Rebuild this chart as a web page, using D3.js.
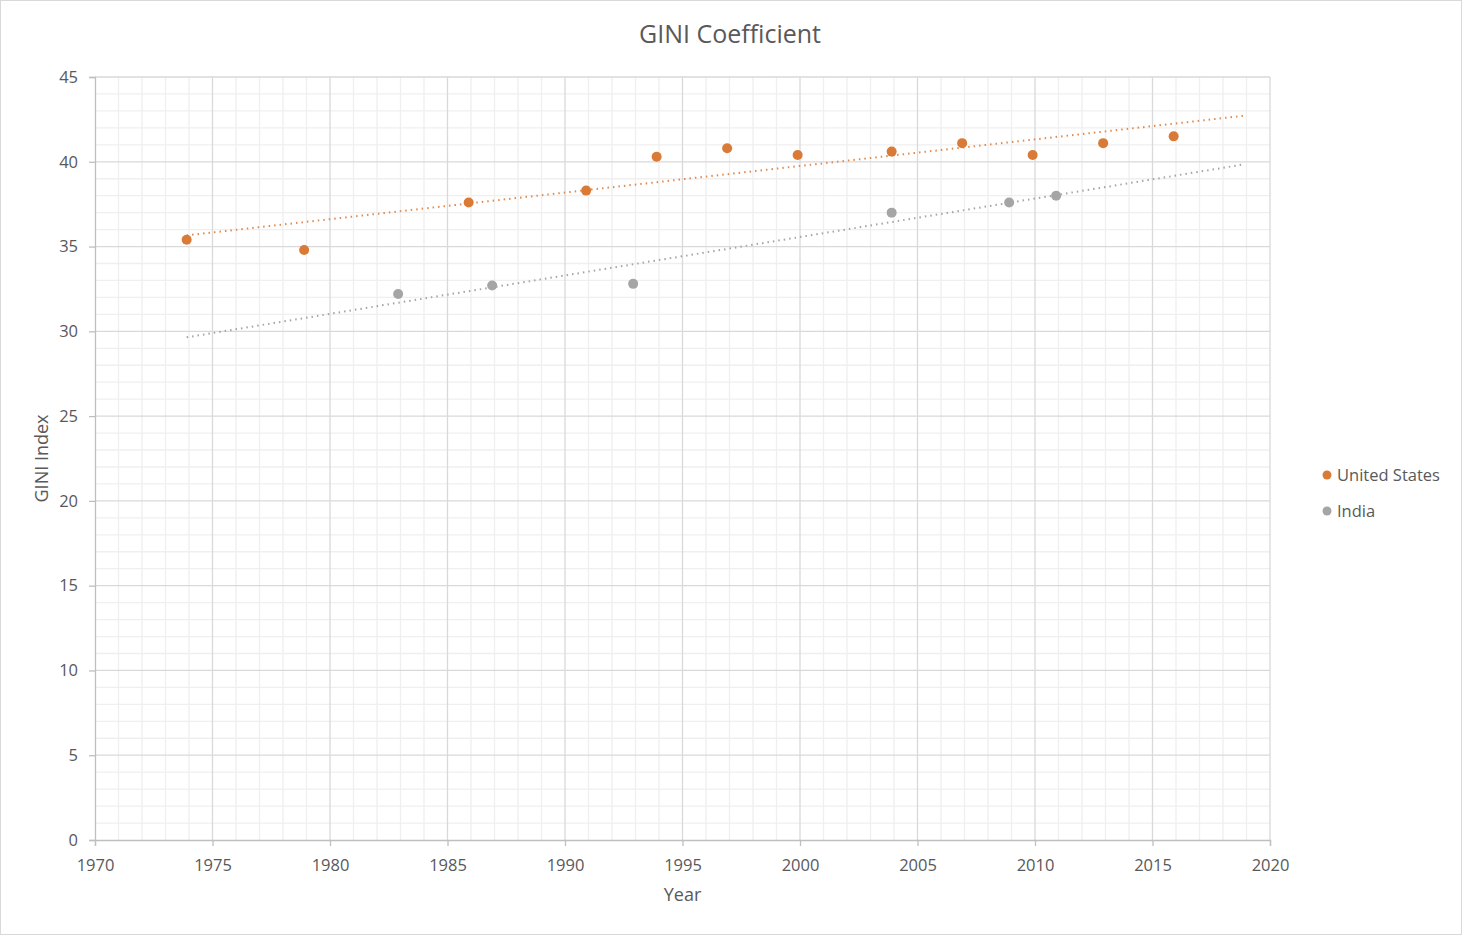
<!DOCTYPE html>
<html>
<head>
<meta charset="utf-8">
<script src="https://cdn.jsdelivr.net/npm/d3@7"></script>
<style>
  body { margin: 0; background: #fff; }
  text { font-family: "Open Sans", "Noto Sans", sans-serif; fill: #595959; }
</style>
</head>
<body>
<div id="viz"></div>
<script>
// data
const usYears = [1973.9, 1978.9, 1985.9, 1990.9, 1993.9, 1996.9, 1999.9, 2003.9, 2006.9, 2009.9, 2012.9, 2015.9];
const usGini = [35.4, 34.8, 37.6, 38.3, 40.3, 40.8, 40.4, 40.6, 41.1, 40.4, 41.1, 41.5];
const indiaYears = [1982.9, 1986.9, 1992.9, 2003.9, 2008.9, 2010.9];
const indiaGini = [32.2, 32.7, 32.8, 37.0, 37.6, 38.0];
const trendRange = [1973.9, 2018.9];
const xTicks = [1970, 1975, 1980, 1985, 1990, 1995, 2000, 2005, 2010, 2015, 2020];
const yTicks = [0, 5, 10, 15, 20, 25, 30, 35, 40, 45];

const series = [
    { name: "United States", xs: usYears, ys: usGini, color: "#d97a36", trend: "#e08a4c" },
    { name: "India", xs: indiaYears, ys: indiaGini, color: "#a5a5a5", trend: "#a5a5a5" }
];

const width = 1462;
const height = 935;
const plot = { left: 95, right: 1270, top: 77, bottom: 840 };

const svg = d3.select('#viz').append('svg')
    .attr('width', width)
    .attr('height', height);

svg.append('rect')
    .attr('x', 0.5).attr('y', 0.5)
    .attr('width', width - 1).attr('height', height - 1)
    .attr('fill', 'white')
    .attr('stroke', '#d9d9d9');

const x = d3.scaleLinear().domain([1970, 2020]).range([plot.left, plot.right]);
const y = d3.scaleLinear().domain([0, 45]).range([plot.bottom, plot.top]);

// minor grid
const grid = svg.append('g');
grid.selectAll('.minx')
    .data(d3.range(1971, 2020).filter(v => v % 5 !== 0))
    .enter().append('line')
    .attr('x1', d => x(d)).attr('x2', d => x(d))
    .attr('y1', plot.top).attr('y2', plot.bottom)
    .attr('stroke', '#efefef').attr('stroke-width', 1.3);
grid.selectAll('.miny')
    .data(d3.range(1, 45).filter(v => v % 5 !== 0))
    .enter().append('line')
    .attr('y1', d => y(d)).attr('y2', d => y(d))
    .attr('x1', plot.left).attr('x2', plot.right)
    .attr('stroke', '#efefef').attr('stroke-width', 1.3);

// major grid
grid.selectAll('.majx')
    .data(xTicks.slice(1))
    .enter().append('line')
    .attr('x1', d => x(d)).attr('x2', d => x(d))
    .attr('y1', plot.top).attr('y2', plot.bottom)
    .attr('stroke', '#d9d9d9').attr('stroke-width', 1.3);
grid.selectAll('.majy')
    .data(yTicks.slice(1))
    .enter().append('line')
    .attr('y1', d => y(d)).attr('y2', d => y(d))
    .attr('x1', plot.left).attr('x2', plot.right)
    .attr('stroke', '#d9d9d9').attr('stroke-width', 1.3);

// axes
const xAxis = svg.append('g')
    .attr('transform', `translate(0,${plot.bottom})`)
    .call(d3.axisBottom(x).tickValues(xTicks).tickFormat(d3.format('d')).tickSize(6).tickPadding(13));
const yAxis = svg.append('g')
    .attr('transform', `translate(${plot.left},0)`)
    .call(d3.axisLeft(y).tickValues(yTicks).tickSize(6).tickPadding(11));

[xAxis, yAxis].forEach(a => {
    a.select('.domain').attr('stroke', '#bfbfbf').attr('stroke-width', 1.3);
    a.selectAll('.tick line').attr('stroke', '#bfbfbf').attr('stroke-width', 1.3);
    a.selectAll('.tick text').style('font-size', '16.5px').attr('fill', '#595959');
});

// trendlines (linear least squares)
function fit(xs, ys) {
    const mx = d3.mean(xs), my = d3.mean(ys);
    const b = d3.sum(xs, (v, i) => (v - mx) * (ys[i] - my)) / d3.sum(xs, v => (v - mx) * (v - mx));
    return v => my + b * (v - mx);
}

series.forEach(s => {
    const f = fit(s.xs, s.ys);
    svg.append('line')
        .attr('x1', x(trendRange[0])).attr('y1', y(f(trendRange[0])))
        .attr('x2', x(trendRange[1])).attr('y2', y(f(trendRange[1])))
        .attr('stroke', s.trend)
        .attr('stroke-width', 2)
        .attr('stroke-dasharray', '1.5,4');
});

series.forEach(s => {
    svg.append('g').selectAll('circle')
        .data(s.xs.map((v, i) => [v, s.ys[i]]))
        .enter().append('circle')
        .attr('cx', d => x(d[0]))
        .attr('cy', d => y(d[1]))
        .attr('r', 5)
        .attr('fill', s.color);
});

// titles
svg.append('text')
    .attr('x', 730).attr('y', 43)
    .attr('text-anchor', 'middle')
    .style('font-size', '25px')
    .text('GINI Coefficient');

svg.append('text')
    .attr('x', (plot.left + plot.right) / 2).attr('y', 901)
    .attr('text-anchor', 'middle')
    .style('font-size', '18px')
    .text('Year');

svg.append('text')
    .attr('transform', `translate(48,${(plot.top + plot.bottom) / 2}) rotate(-90)`)
    .attr('text-anchor', 'middle')
    .style('font-size', '18px')
    .text('GINI Index');

// legend
const legend = svg.append('g').attr('transform', 'translate(1327,475)');
series.forEach((s, i) => {
    const g = legend.append('g').attr('transform', `translate(0,${i * 36})`);
    g.append('circle').attr('r', 4.5).attr('fill', s.color);
    g.append('text').attr('x', 10).attr('dy', '0.35em')
        .style('font-size', '16.5px')
        .text(s.name);
});
</script>
</body>
</html>
